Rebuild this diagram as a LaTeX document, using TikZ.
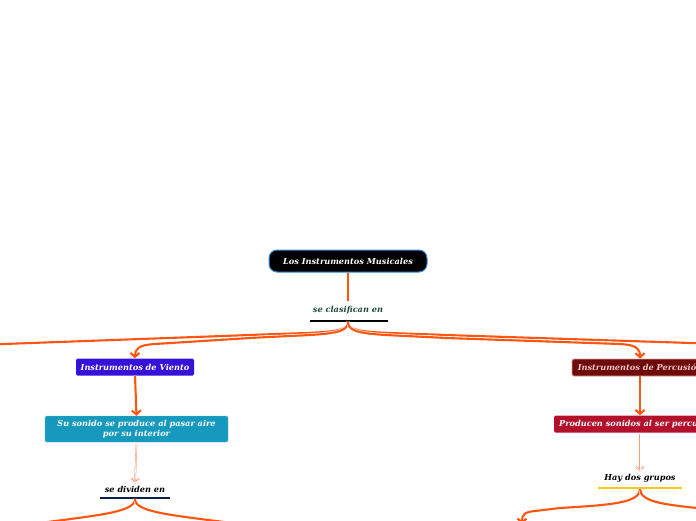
\documentclass[tikz,border=0pt]{standalone}
\usepackage{fontspec}
\setmainfont{DejaVu Serif}
\usetikzlibrary{arrows.meta}
\definecolor{orng}{HTML}{FF5510}
\definecolor{rootbd}{HTML}{3B8FD9}
\definecolor{clasc}{HTML}{1E4B3C}
\definecolor{vientoc}{HTML}{3611D9}
\definecolor{suc}{HTML}{1699BC}
\definecolor{percf}{HTML}{6E0A0A}
\definecolor{percb}{HTML}{D99A9A}
\definecolor{perct}{HTML}{EBC6C6}
\definecolor{prodc}{HTML}{B3102B}
\definecolor{divc}{HTML}{0C1E4A}
\definecolor{yel}{HTML}{F7CB15}
\definecolor{lightc}{HTML}{F59C7C}
\tikzset{
  txt/.style={font=\fontsize{8.2}{10.5}\selectfont\bfseries\itshape, inner sep=0pt, align=center},
  boxn/.style={txt, text=white, rounded corners=1.5pt, minimum height=17pt},
  conn/.style={draw=orng, line width=2.1pt, preaction={draw=white, line width=3.4pt}},
  connarr/.style={conn, -{Straight Barb[length=4pt,width=9pt]}},
  lightarr/.style={draw=lightc, line width=1.7pt, -{Straight Barb[length=4pt,width=8pt]},
    postaction={draw=white, line width=0.6pt}},
}
\begin{document}
\begin{tikzpicture}[x=1pt,y=-1pt]
\useasboundingbox (0,0) rectangle (696,520);
\clip (0,0) rectangle (696,520);
% nodes
\node[txt, text=white, fill=black, draw=rootbd, line width=1pt, rounded corners=8pt, minimum width=158pt, minimum height=22pt] (root) at (348,261) {Los Instrumentos Musicales};
\node[txt, text=clasc] (clas) at (348,310) {se clasifican en};
\coordinate (clasb) at (348,322);
\node[boxn, fill=vientoc, minimum width=118pt] (viento) at (135,367) {Instrumentos de Viento};
\node[boxn, fill=suc, draw=suc!70!white, minimum width=183pt, minimum height=26pt] (su) at (136.5,429) {Su sonido se produce al pasar aire\\por su interior};
\node[txt, text=black] (div) at (135,489) {se dividen en};
\coordinate (divb) at (135,499);
\node[boxn, fill=percf, draw=percb, line width=0.8pt, text=perct, minimum width=136pt] (perc) at (640,367.5) {Instrumentos de Percusión};
\node[boxn, fill=prodc, minimum width=172pt] (prod) at (640,424) {Producen sonidos al ser percutidos};
\node[txt, text=black] (hay) at (640,478) {Hay dos grupos};
\coordinate (hayb) at (640,489);
\coordinate (L1) at (-10,344.5);
\coordinate (R1) at (706,343.5);
\coordinate (DL) at (40,523);
\coordinate (DR) at (232,523);
\coordinate (HL) at (522,524);
\coordinate (HR) at (706,509);
% underlines
\draw[black, line width=2pt] (310,321) -- (388,321);
\draw[divc, line width=2pt] (100,498) -- (170,498);
\draw[yel, line width=2pt] (598,488) -- (682,488);
% connectors
\draw[conn] (root.south) -- ([yshift=5pt]clas.north);
\draw[conn] (clasb) .. controls (348,334) and (320,332) .. (250,335) -- (L1);
\draw[connarr] (clasb) .. controls (348,336) and (320,334) .. (250,338) -- (155,344) .. controls (138,345) and (135,349) .. (viento.north);
\draw[conn] (clasb) .. controls (348,334) and (376,332) .. (446,335) -- (R1);
\draw[connarr] (clasb) .. controls (348,336) and (376,334) .. (446,338) -- (620,344) .. controls (637,345) and (640,349) .. (perc.north);
\draw[connarr] (viento.south) -- (su.north);
\draw[connarr] (perc.south) -- (prod.north);
\draw[lightarr] ([yshift=-1.5pt]su.south) -- ([yshift=2pt]div.north);
\draw[lightarr] ([yshift=-1.5pt]prod.south) -- ([yshift=2pt]hay.north);
\draw[conn] (divb) .. controls (135,512) and (100,515) .. (DL);
\draw[conn] (divb) .. controls (135,512) and (170,515) .. (DR);
\draw[connarr] (hayb) .. controls (640,503) and (610,505) .. (560,508) -- (535,511) .. controls (524,512) and (522,515) .. (HL);
\draw[conn] (hayb) .. controls (640,503) and (670,505) .. (HR);
\end{tikzpicture}
\end{document}
